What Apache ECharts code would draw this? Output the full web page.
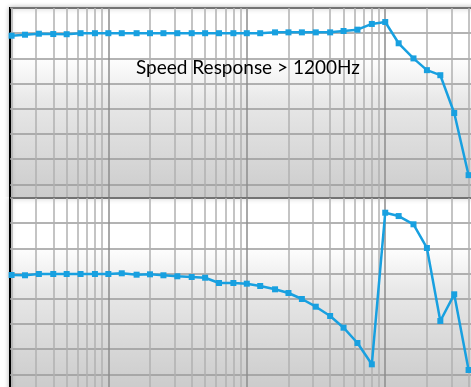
<!DOCTYPE html>
<html>
<head>
<meta charset="utf-8">
<script src="https://cdn.jsdelivr.net/npm/echarts@6/dist/echarts.min.js"></script>
<style>
  html, body { margin: 0; padding: 0; background: #fff; }
  .clip { position: absolute; left: 0; width: 471px; overflow: hidden; }
  #magWrap { top: 0; height: 197px; }
  #phaseWrap { top: 197px; height: 190px; }
  #mag { width: 490px; height: 215px; }
  #phase { width: 490px; height: 210px; }
</style>
</head>
<body>
<div id="magWrap" class="clip"><div id="mag"></div></div>
<div id="phaseWrap" class="clip"><div id="phase"></div></div>
<script>
// measurement frequencies (Hz), 1/10 decade
var freqs = [2, 2.5, 3.15, 4, 5, 6.3, 8, 10, 12.5, 16, 20, 25, 31.5, 40, 50, 63, 80,
  100, 125, 160, 200, 250, 315, 400, 500, 630, 800, 1000, 1250, 1600, 2000, 2500, 3150, 4000];

// gain in dB
var magDb = [-0.3, -0.18, -0.06, -0.1, -0.12, 0, 0, 0, 0, 0, 0, 0, 0, 0, 0, 0, 0,
  0, 0, 0.1, 0.1, 0.1, 0.1, 0.1, 0.26, 0.42, 1.1, 1.33, -1.2, -3.0, -4.4, -5.0, -9.5, -16.9];

// phase in degrees
var phaseDeg = [-3.3, -4, -1, -1, -1, -1, -1, -1, 0.7, -2.6, -1.7, -4, -6.4, -8.1, -9.8, -22.4, -22.4,
  -24, -29.5, -37.4, -46.2, -60.5, -78.8, -101, -128.8, -165.2, -216, 145, 137, 117.4, 61, -112.9, -49.3, -229.5];

// log grid lines
var decadeLines = [10, 100, 1000];
var minorLines = [2, 3, 4, 5, 6, 7, 8, 9, 20, 30, 40, 50, 60, 70, 80, 90,
  200, 300, 400, 500, 600, 700, 800, 900, 2000, 3000, 4000];

var title = 'Speed Response > 1200Hz';

var blue = '#18a0e0';

var bg = {
  type: 'linear', x: 0, y: 0, x2: 0, y2: 1,
  colorStops: [
    { offset: 0, color: '#ffffff' },
    { offset: 0.24, color: '#ffffff' },
    { offset: 0.46, color: '#e8e8e8' },
    { offset: 1, color: '#c8c8c8' }
  ]
};

function vLines() {
  var d = [];
  minorLines.forEach(function (v) {
    d.push({ xAxis: v, lineStyle: { color: '#b0b0b0', width: 1.5, type: 'solid' } });
  });
  decadeLines.forEach(function (v) {
    d.push({ xAxis: v, lineStyle: { color: '#8c8c8c', width: 1.5, type: 'solid' } });
  });
  return d;
}

function makeOption(values, yMin, yMax, step, gridTop, extra) {
  var opt = {
    animation: false,
    grid: {
      left: 10, top: gridTop, width: 472, height: 201.6,
      show: true,
      backgroundColor: bg,
      borderColor: '#000',
      borderWidth: 2,
      shadowBlur: 5,
      shadowColor: 'rgba(0,0,0,0.25)'
    },
    xAxis: {
      type: 'log', min: 1.948, max: 5000,
      axisLine: { show: false }, axisTick: { show: false },
      axisLabel: { show: false }, splitLine: { show: false }
    },
    yAxis: {
      type: 'value', min: yMin, max: yMax, interval: step,
      axisLine: { show: false }, axisTick: { show: false },
      axisLabel: { show: false },
      splitLine: { lineStyle: { color: '#9a9a9a', width: 1.5 } }
    },
    series: [{
      type: 'line',
      data: freqs.map(function (f, i) { return [f, values[i]]; }),
      symbol: 'rect',
      symbolSize: 6,
      lineStyle: { color: blue, width: 2.5 },
      itemStyle: { color: blue },
      z: 3,
      markLine: {
        silent: true,
        symbol: 'none',
        z: 1,
        label: { show: false },
        data: vLines()
      }
    }]
  };
  if (extra) opt.graphic = extra;
  return opt;
}

var magChart = echarts.init(document.getElementById('mag'));
magChart.setOption(makeOption(magDb, -21, 3, 3, 8, [{
  type: 'text', left: 136, top: 58, z: 20,
  style: { text: title, font: '19px Lato', fill: '#000' }
}]));

var phaseChart = echarts.init(document.getElementById('phase'));
phaseChart.setOption(makeOption(phaseDeg, -300, 180, 60, 1));
</script>
</body>
</html>
